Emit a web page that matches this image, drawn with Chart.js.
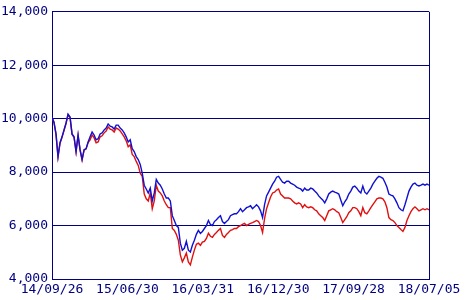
<!DOCTYPE html>
<html>
<head>
<meta charset="utf-8">
<script src="https://cdn.jsdelivr.net/npm/chart.js@4"></script>
<style>
  html, body { margin: 0; padding: 0; background: #fff; }
  #wrap { width: 470px; height: 300px; }
</style>
</head>
<body>
<div id="wrap"><canvas id="lineChart" width="470" height="300"></canvas></div>
<script>
// =====================
// Data (about one value every 2px)
// =====================

const tickLabels = ["14/09/26", "15/06/30", "16/03/31", "16/12/30", "17/09/28", "18/07/05"];

const blueSeries = [
  10060, 9870, 9430, 8580, 9100, 9320, 9580, 9840, 10170, 10060,
  9430, 9320, 8770, 9390, 8840, 8470, 8840, 8880, 9130, 9320,
  9500, 9390, 9210, 9250, 9430, 9470, 9580, 9650, 9800, 9720,
  9690, 9610, 9760, 9760, 9650, 9580, 9470, 9320, 9130, 9210,
  8880, 8770, 8580, 8470, 8290, 7960, 7510, 7370, 7220, 7400,
  6920, 7220, 7730, 7590, 7510, 7370, 7180, 7030, 7030, 6920,
  6370, 6190, 6000, 5930, 5340, 5080, 5150, 5410, 5080, 5010,
  5260, 5450, 5670, 5820, 5710, 5780, 5890, 6000, 6190, 6040,
  6000, 6150, 6220, 6300, 6370, 6150, 6080, 6150, 6220, 6370,
  6410, 6440, 6440, 6520, 6630, 6520, 6590, 6670, 6700, 6740,
  6630, 6700, 6780, 6700, 6550, 6300, 6780, 7110, 7250, 7400,
  7550, 7660, 7810, 7840, 7730, 7620, 7590, 7660, 7660, 7590,
  7550, 7510, 7440, 7400, 7370, 7290, 7400, 7330, 7330, 7400,
  7370, 7290, 7220, 7110, 7030, 6960, 6850, 7000, 7180, 7250,
  7290, 7250, 7220, 7180, 6960, 6740, 6890, 7000, 7180, 7290,
  7440, 7480, 7400, 7290, 7220, 7480, 7250, 7180, 7290, 7400,
  7550, 7660, 7770, 7840, 7810, 7770, 7620, 7440, 7180, 7140,
  7110, 7000, 6850, 6670, 6590, 6550, 6780, 7030, 7290, 7440,
  7550, 7590, 7510, 7480, 7510, 7550, 7510, 7550, 7510
];

const redSeries = [
  10040, 9850, 9410, 8560, 9080, 9300, 9560, 9820, 10150, 10040,
  9410, 9300, 8750, 9370, 8820, 8450, 8820, 8860, 9110, 9210,
  9390, 9280, 9100, 9130, 9320, 9360, 9470, 9540, 9690, 9610,
  9580, 9500, 9650, 9610, 9540, 9430, 9320, 9170, 8950, 9020,
  8660, 8580, 8400, 8250, 7960, 7840, 7180, 7000, 6920, 7220,
  6630, 6920, 7510, 7290, 7220, 7110, 6920, 6780, 6670, 6670,
  5890, 5820, 5670, 5450, 4900, 4640, 4790, 4970, 4640, 4530,
  4820, 5080, 5300, 5340, 5260, 5380, 5410, 5520, 5710, 5600,
  5560, 5670, 5740, 5820, 5890, 5630, 5560, 5670, 5740, 5820,
  5850, 5890, 5890, 5960, 6000, 6040, 6080, 6000, 6040, 6080,
  6110, 6150, 6190, 6150, 6000, 5740, 6260, 6630, 6850, 7070,
  7220, 7250, 7330, 7370, 7180, 7110, 7030, 7030, 7030, 7000,
  6920, 6850, 6810, 6850, 6810, 6670, 6780, 6700, 6670, 6700,
  6670, 6590, 6550, 6440, 6370, 6300, 6190, 6370, 6550, 6590,
  6630, 6590, 6520, 6480, 6300, 6110, 6220, 6330, 6480, 6550,
  6670, 6670, 6630, 6520, 6370, 6670, 6480, 6440, 6550, 6670,
  6780, 6890, 7000, 7030, 7030, 7000, 6890, 6670, 6300, 6220,
  6190, 6110, 6000, 5930, 5850, 5780, 5930, 6190, 6370, 6520,
  6630, 6700, 6630, 6550, 6590, 6630, 6590, 6630, 6590
];

const yMin = 4000;
const yMax = 14000;
const yStep = 2000;

// =====================
// Chart
// =====================

const navy = '#000080';
const lastIndex = blueSeries.length - 1;
const tickPositions = tickLabels.map((_, i) => i * lastIndex / (tickLabels.length - 1));

Chart.defaults.font.family = "'DejaVu Sans Mono', monospace";
Chart.defaults.font.size = 13;
Chart.defaults.font.lineHeight = 1.2;
Chart.defaults.color = navy;

const ctx = document.getElementById('lineChart');

new Chart(ctx, {
  type: 'line',
  data: {
    labels: blueSeries.map((_, i) => i),
    datasets: [
      {
        data: blueSeries,
        borderColor: '#1010d0',
        borderWidth: 1.4,
        pointRadius: 0,
        tension: 0
      },
      {
        data: redSeries,
        borderColor: '#e01010',
        borderWidth: 1.4,
        pointRadius: 0,
        tension: 0
      }
    ]
  },
  options: {
    responsive: false,
    animation: false,
    events: [],
    layout: { padding: { top: 8, right: 41, left: 0, bottom: 0 } },
    plugins: {
      legend: { display: false },
      tooltip: { enabled: false }
    },
    scales: {
      x: {
        type: 'linear',
        min: 0,
        max: lastIndex,
        afterBuildTicks: axis => { axis.ticks = tickPositions.map(v => ({ value: v })); },
        afterFit: axis => { axis.height = 21; },
        ticks: {
          autoSkip: false,
          maxRotation: 0,
          padding: 3,
          callback: (value, index) => tickLabels[index]
        },
        grid: {
          drawTicks: false,
          lineWidth: 1,
          color: c => (c.index === tickLabels.length - 1 ? navy : 'rgba(0,0,0,0)')
        },
        border: { color: navy, width: 1 }
      },
      y: {
        min: yMin,
        max: yMax,
        afterFit: axis => { axis.width = 52; },
        ticks: {
          stepSize: yStep,
          padding: 4,
          callback: v => v.toLocaleString('en-US')
        },
        grid: { drawTicks: false, color: navy, lineWidth: 1 },
        border: { color: navy, width: 1 }
      }
    }
  }
});
</script>
</body>
</html>
